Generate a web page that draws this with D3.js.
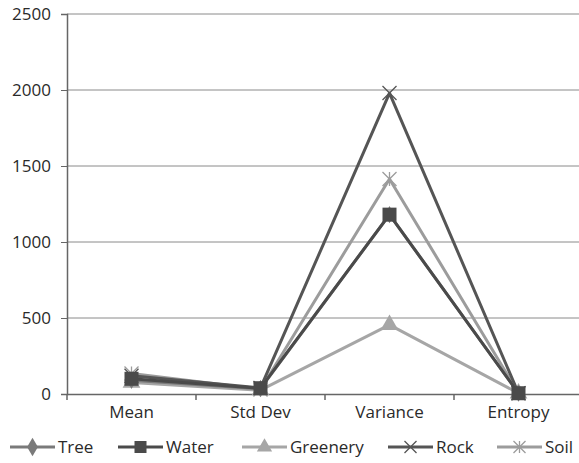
<!DOCTYPE html>
<html><head><meta charset="utf-8">
<script src="https://cdn.jsdelivr.net/npm/d3@7"></script>
<style>body{margin:0;background:#fff}svg{display:block}text{font-family:"Open Sans",sans-serif;fill:#2a2a2a}</style>
</head><body><svg id="c" width="579" height="463"></svg>
<script>
const categories = ["Mean", "Std Dev", "Variance", "Entropy"];
const seriesNames = ["Tree", "Water", "Greenery", "Rock", "Soil"];
const tree = [90, 35, 1180, 5];
const water = [100, 38, 1180, 5];
const greenery = [75, 25, 455, 5];
const rock = [120, 40, 1980, 5];
const soil = [135, 30, 1415, 5];
const yTicks = [0, 500, 1000, 1500, 2000, 2500];

const colors = {Tree:"#7a7a7a", Water:"#4a4a4a", Greenery:"#a6a6a6", Rock:"#555555", Soil:"#9c9c9c"};
const markers = {Tree:"diamond", Water:"square", Greenery:"triangle", Rock:"x", Soil:"star"};
const data = {Tree:tree, Water:water, Greenery:greenery, Rock:rock, Soil:soil};
const drawOrder = ["Greenery","Soil","Rock","Tree","Water"];

const svg = d3.select("#c");
const L = 67, R = 583, T = 14, B = 394;
const x = d3.scaleBand().domain(categories).range([L, R]);
const y = d3.scaleLinear().domain([0, 2500]).range([B, T]);

svg.append("g").selectAll("line").data(yTicks.slice(1)).join("line")
  .attr("x1", L).attr("x2", 579).attr("y1", d=>y(d)).attr("y2", d=>y(d))
  .attr("stroke", "#8a8a8a").attr("stroke-width", 1);

const ya = svg.append("g").attr("transform", `translate(${L},0)`)
  .call(d3.axisLeft(y).tickValues(yTicks).tickFormat(d3.format("d")).tickSize(6).tickPadding(10));
ya.select(".domain").attr("stroke", "#666").attr("stroke-width", 1.5);
ya.selectAll("line").attr("stroke", "#666");
ya.selectAll("text").style("font-size", "17px").attr("fill", "#2a2a2a");

const xa = svg.append("g").attr("transform", `translate(0,${B})`)
  .call(d3.axisBottom(x).tickSize(0).tickPadding(12));
xa.select(".domain").attr("stroke", "#666").attr("stroke-width", 1.5);
xa.selectAll("text").style("font-size", "17px").attr("fill", "#2a2a2a");
svg.append("g").selectAll("line").data(categories).join("line")
  .attr("x1", d=>x(d)).attr("x2", d=>x(d)).attr("y1", B).attr("y2", B+6)
  .attr("stroke", "#666").attr("stroke-width", 1.5);

function marker(g, type, cx, cy, color, s) {
  if (type === "diamond") g.append("path").attr("d", d3.symbol(d3.symbolDiamond, s*s*0.7)()).attr("transform",`translate(${cx},${cy})`).attr("fill", color);
  else if (type === "square") g.append("rect").attr("x", cx-s/2).attr("y", cy-s/2).attr("width", s).attr("height", s).attr("fill", color);
  else if (type === "triangle") g.append("path").attr("d", d3.symbol(d3.symbolTriangle, s*s*0.7)()).attr("transform",`translate(${cx},${cy})`).attr("fill", color);
  else if (type === "x") g.append("path").attr("d", `M${cx-s/2},${cy-s/2}L${cx+s/2},${cy+s/2}M${cx-s/2},${cy+s/2}L${cx+s/2},${cy-s/2}`).attr("stroke", color).attr("stroke-width", 1.3);
  else if (type === "star") g.append("path").attr("d", `M${cx-s/2},${cy-s/2}L${cx+s/2},${cy+s/2}M${cx-s/2},${cy+s/2}L${cx+s/2},${cy-s/2}M${cx},${cy-s/2}L${cx},${cy+s/2}`).attr("stroke", color).attr("stroke-width", 1.3);
}

const line = d3.line().x((d,i)=>x(categories[i]) + x.bandwidth()/2).y(d=>y(d));
drawOrder.forEach(name => {
  const g = svg.append("g");
  g.append("path").datum(data[name]).attr("d", line).attr("fill", "none")
    .attr("stroke", colors[name]).attr("stroke-width", 3).attr("stroke-linejoin","round");
  data[name].forEach((v,i) => marker(g, markers[name], x(categories[i]) + x.bandwidth()/2, y(v), colors[name], name==="Tree"?11:14));
});

const legX = [10, 118, 242, 388, 497];
const leg = svg.append("g");
seriesNames.forEach((name, i) => {
  const lx = legX[i], ly = 447;
  leg.append("line").attr("x1", lx).attr("x2", lx+45).attr("y1", ly).attr("y2", ly)
    .attr("stroke", colors[name]).attr("stroke-width", 3);
  marker(leg, markers[name], lx+22.5, ly, colors[name], 12);
  leg.append("text").attr("x", lx+48).attr("y", ly+6).style("font-size", "17px").text(name);
});
</script></body></html>
